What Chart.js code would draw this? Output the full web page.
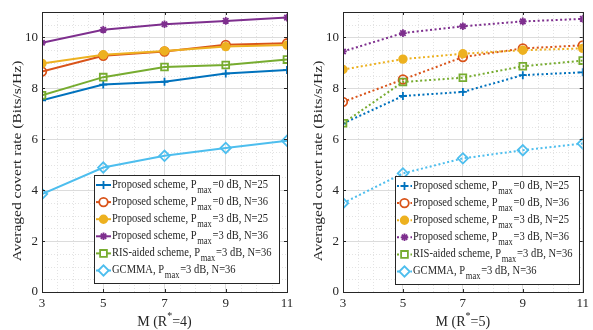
<!DOCTYPE html>
<html>
<head>
<meta charset="utf-8">
<script src="https://cdn.jsdelivr.net/npm/chart.js@4"></script>
<style>
  html, body { margin: 0; padding: 0; background: #fff; }
  #wrap { position: relative; width: 593px; height: 330px; }
  .panel { position: absolute; top: 0; height: 330px; }
</style>
</head>
<body>
<div id="wrap">
  <div class="panel" style="left:0;width:300px"><canvas id="leftChart" width="300" height="330"></canvas></div>
  <div class="panel" style="left:300px;width:293px"><canvas id="rightChart" width="293" height="330"></canvas></div>
</div>
<script>
// ---- data ----
const mValues = [3, 5, 7, 9, 11];
const xTicks = [3, 5, 7, 9, 11];
const yTicks = [0, 2, 4, 6, 8, 10];

const seriesLabels = [
  'Proposed scheme, P_max=0 dB, N=25',
  'Proposed scheme, P_max=0 dB, N=36',
  'Proposed scheme, P_max=3 dB, N=25',
  'Proposed scheme, P_max=3 dB, N=36',
  'RIS-aided scheme, P_max=3 dB, N=36',
  'GCMMA, P_max=3 dB, N=36'
];

// left panel, R* = 4
const r4P0N25 = [7.53, 8.15, 8.26, 8.58, 8.72];
const r4P0N36 = [8.66, 9.28, 9.45, 9.71, 9.77];
const r4P3N25 = [8.98, 9.32, 9.47, 9.64, 9.70];
const r4P3N36 = [9.79, 10.30, 10.52, 10.65, 10.78];
const r4Ris   = [7.73, 8.44, 8.84, 8.92, 9.13];
const r4Gcmma = [3.85, 4.89, 5.35, 5.66, 5.94];

// right panel, R* = 5
const r5P0N25 = [6.62, 7.70, 7.86, 8.52, 8.63];
const r5P0N36 = [7.47, 8.35, 9.23, 9.57, 9.69];
const r5P3N25 = [8.74, 9.15, 9.36, 9.50, 9.57];
const r5P3N36 = [9.45, 10.17, 10.44, 10.63, 10.73];
const r5Ris   = [6.63, 8.25, 8.42, 8.87, 9.09];
const r5Gcmma = [3.49, 4.66, 5.25, 5.57, 5.83];

// MATLAB-ish default colours and markers
const seriesStyles = [
  { color: '#0072BD', point: 'cross',   radius: 4,   filled: false },
  { color: '#D95319', point: 'circle',  radius: 4.3, filled: false },
  { color: '#EDB120', point: 'circle',  radius: 3.8, filled: true  },
  { color: '#7E2F8E', point: 'star',    radius: 3.8, filled: false },
  { color: '#77AC30', point: 'rect',    radius: 4.8, filled: false },
  { color: '#4DBEEE', point: 'rectRot', radius: 5.2, filled: false }
];

const FONT = "'Liberation Serif', 'Times New Roman', serif";
const TEXT_COLOR = '#262626';

// legend text: "P_max" gets a subscript, the whole line squeezed by sx
function drawRichText(ctx, text, x, y, size, sx) {
  const parts = text.split('_max');
  ctx.save();
  ctx.translate(x, y);
  ctx.scale(sx, 1);
  ctx.textBaseline = 'middle';
  ctx.textAlign = 'left';
  let cx = 0;
  ctx.font = size + 'px ' + FONT;
  ctx.fillText(parts[0], cx, 0);
  cx += ctx.measureText(parts[0]).width;
  if (parts.length > 1) {
    ctx.font = (size * 0.8) + 'px ' + FONT;
    ctx.fillText('max', cx + 1, size * 0.45);
    cx += ctx.measureText('max').width + 2;
    ctx.font = size + 'px ' + FONT;
    ctx.fillText(parts[1], cx, 0);
  }
  ctx.restore();
}

// box, inward ticks, minor grid, axis titles and the legend
const matlabAxes = {
  id: 'matlabAxes',
  beforeDatasetsDraw(chart, args, opts) {
    const { ctx, chartArea: a, scales: { x, y } } = chart;
    ctx.save();
    ctx.strokeStyle = '#e3e3e3';
    ctx.lineWidth = 1;
    ctx.setLineDash([1, 2]);
    for (let v = 3.5; v < 11; v += 0.5) {
      if (xTicks.includes(v)) continue;
      const px = Math.round(x.getPixelForValue(v)) + 0.5;
      ctx.beginPath(); ctx.moveTo(px, a.top); ctx.lineTo(px, a.bottom); ctx.stroke();
    }
    for (let v = 0.5; v < 11; v += 0.5) {
      if (yTicks.includes(v)) continue;
      const py = Math.round(y.getPixelForValue(v)) + 0.5;
      ctx.beginPath(); ctx.moveTo(a.left, py); ctx.lineTo(a.right, py); ctx.stroke();
    }
    ctx.restore();
  },
  afterDatasetsDraw(chart, args, opts) {
    const { ctx, chartArea: a, scales: { x, y } } = chart;
    ctx.save();
    ctx.strokeStyle = TEXT_COLOR;
    ctx.lineWidth = 1;
    ctx.strokeRect(Math.round(a.left) + 0.5, Math.round(a.top) + 0.5,
      Math.round(a.right - a.left), Math.round(a.bottom - a.top));
    const tl = 3;
    xTicks.forEach(v => {
      const px = Math.round(x.getPixelForValue(v)) + 0.5;
      ctx.beginPath();
      ctx.moveTo(px, a.bottom); ctx.lineTo(px, a.bottom - tl);
      ctx.moveTo(px, a.top); ctx.lineTo(px, a.top + tl);
      ctx.stroke();
    });
    yTicks.forEach(v => {
      const py = Math.round(y.getPixelForValue(v)) + 0.5;
      ctx.beginPath();
      ctx.moveTo(a.left, py); ctx.lineTo(a.left + tl, py);
      ctx.moveTo(a.right, py); ctx.lineTo(a.right - tl, py);
      ctx.stroke();
    });
    ctx.restore();
  },
  afterDraw(chart, args, opts) {
    const { ctx, chartArea: a } = chart;
    ctx.save();
    ctx.fillStyle = TEXT_COLOR;

    // y title, glyphs a bit narrow like the original
    ctx.save();
    ctx.translate(opts.yTitleX, 161);
    ctx.rotate(-Math.PI / 2);
    ctx.scale(1, 0.8);
    ctx.font = '15.5px ' + FONT;
    ctx.textAlign = 'center';
    ctx.textBaseline = 'middle';
    ctx.fillText('Averaged covert rate (Bits/s/Hz)', 0, 0);
    ctx.restore();

    // x title with superscript star
    const p1 = 'M (R', p3 = '=' + opts.rStar + ')';
    ctx.font = '14px ' + FONT;
    const w1 = ctx.measureText(p1).width, w3 = ctx.measureText(p3).width;
    ctx.font = '10px ' + FONT;
    const w2 = ctx.measureText('*').width;
    let tx = (a.left + a.right) / 2 - (w1 + w2 + w3) / 2;
    const ty = 322;
    ctx.textBaseline = 'middle';
    ctx.textAlign = 'left';
    ctx.font = '14px ' + FONT;
    ctx.fillText(p1, tx, ty); tx += w1;
    ctx.font = '10px ' + FONT;
    ctx.fillText('*', tx, ty - 6); tx += w2;
    ctx.font = '14px ' + FONT;
    ctx.fillText(p3, tx, ty);

    // legend
    const L = opts.legend;
    ctx.fillStyle = '#fff';
    ctx.fillRect(L.x, L.y, L.w, L.h);
    ctx.strokeStyle = TEXT_COLOR;
    ctx.lineWidth = 1;
    ctx.strokeRect(L.x + 0.5, L.y + 0.5, L.w, L.h);
    chart.data.datasets.forEach((ds, i) => {
      const st = seriesStyles[i];
      const cy = L.y + 10 + i * 17.1;
      ctx.save();
      ctx.strokeStyle = st.color;
      ctx.lineWidth = 2;
      ctx.setLineDash(opts.dash);
      ctx.beginPath(); ctx.moveTo(L.x + 2, cy); ctx.lineTo(L.x + 17, cy); ctx.stroke();
      ctx.setLineDash([]);
      ctx.fillStyle = st.filled ? st.color : '#fff';
      ctx.lineWidth = 1.8;
      Chart.helpers.drawPoint(ctx, { pointStyle: st.point, radius: st.radius, rotation: 0, borderWidth: 1.8 }, L.x + 9.5, cy);
      ctx.restore();
      ctx.fillStyle = TEXT_COLOR;
      drawRichText(ctx, ds.label, L.x + 18, cy - 1, 13.5, 0.78);
    });
    ctx.restore();
  }
};

function buildChart(canvasId, seriesData, dashed, rStar, padRight, yAxisWidth, yTitleX, legendBox) {
  const datasets = seriesData.map((vals, i) => {
    const st = seriesStyles[i];
    return {
      label: seriesLabels[i],
      data: mValues.map((m, k) => ({ x: m, y: vals[k] })),
      borderColor: st.color,
      backgroundColor: st.color,
      borderWidth: 2,
      borderDash: dashed ? [2, 2.5] : [],
      pointStyle: st.point,
      pointRadius: st.radius,
      pointBorderWidth: 1.8,
      pointBorderColor: st.color,
      pointBackgroundColor: st.filled ? st.color : 'rgba(0,0,0,0)',
      tension: 0,
      order: seriesData.length - i   // later series on top, like MATLAB
    };
  });

  return new Chart(document.getElementById(canvasId), {
    type: 'line',
    data: { datasets },
    options: {
      responsive: false,
      animation: false,
      devicePixelRatio: 1,
      layout: { padding: { top: 12, right: padRight, left: 0, bottom: 0 } },
      plugins: {
        legend: { display: false },
        tooltip: { enabled: false },
        matlabAxes: { dash: dashed ? [2, 2.5] : [], rStar, yTitleX, legend: legendBox }
      },
      scales: {
        x: {
          type: 'linear',
          min: 3, max: 11,
          afterBuildTicks: s => { s.ticks = xTicks.map(v => ({ value: v })); },
          afterFit: s => { s.height = 38; },
          grid: { color: '#dcdcdc', lineWidth: 1, drawTicks: false },
          border: { display: false },
          ticks: { padding: 4, color: TEXT_COLOR, font: { family: FONT, size: 13 }, maxRotation: 0 }
        },
        y: {
          min: 0, max: 11,
          afterBuildTicks: s => { s.ticks = yTicks.map(v => ({ value: v })); },
          afterFit: s => { s.width = yAxisWidth; },
          grid: { color: '#dcdcdc', lineWidth: 1, drawTicks: false },
          border: { display: false },
          ticks: { padding: 4, color: TEXT_COLOR, font: { family: FONT, size: 13 } }
        }
      }
    },
    plugins: [matlabAxes]
  });
}

buildChart('leftChart',
  [r4P0N25, r4P0N36, r4P3N25, r4P3N36, r4Ris, r4Gcmma],
  false, 4, 13, 42, 18, { x: 94, y: 175, w: 185, h: 108 });

buildChart('rightChart',
  [r5P0N25, r5P0N36, r5P3N25, r5P3N36, r5Ris, r5Gcmma],
  true, 5, 5, 43, 19, { x: 95, y: 176, w: 184, h: 108 });
</script>
</body>
</html>
